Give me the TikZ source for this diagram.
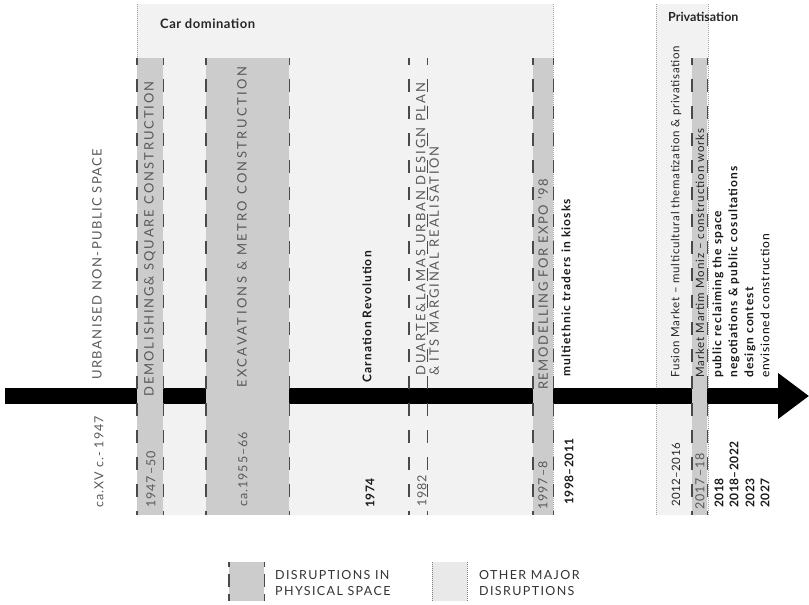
\documentclass[tikz,border=0pt]{standalone}
\usepackage{fontspec}
\setmainfont{Lato}
\newfontfamily\capsU[LetterSpace=11]{Lato}
\newfontfamily\capsDm[LetterSpace=15]{Lato}
\newfontfamily\capsEx[LetterSpace=18.5]{Lato}
\newfontfamily\capsDa[LetterSpace=16]{Lato}
\newfontfamily\capsDb[LetterSpace=15]{Lato}
\newfontfamily\capsRe[LetterSpace=12]{Lato}
\newfontfamily\datef[LetterSpace=8]{Lato}
\newfontfamily\lowA[LetterSpace=4]{Lato}
\newfontfamily\lowFu[LetterSpace=6.4]{Lato}
\newfontfamily\lowCa[LetterSpace=9.5]{Lato}
\newfontfamily\lowMu[LetterSpace=9.5]{Lato}
\newfontfamily\lowMa[LetterSpace=8]{Lato}
\newfontfamily\lowPu[LetterSpace=8.5]{Lato}
\newfontfamily\lowNe[LetterSpace=9.5]{Lato}
\newfontfamily\lowDe[LetterSpace=9]{Lato}
\newfontfamily\lowEn[LetterSpace=7.5]{Lato}
\newfontfamily\legf[LetterSpace=11]{Lato}
\usetikzlibrary{arrows.meta}
\definecolor{lightreg}{HTML}{F2F2F2}
\definecolor{darkbox}{HTML}{CCCCCC}
\definecolor{capgrey}{HTML}{595959}
\definecolor{dashgrey}{HTML}{4A4A4A}
\definecolor{dotgrey}{HTML}{A0A0A0}
\definecolor{leggrey}{HTML}{333333}
\begin{document}
\begin{tikzpicture}[x=1pt,y=-1pt,
  region/.style={fill=lightreg, draw=none, inner sep=0pt, anchor=north west},
  phys/.style={fill=darkbox, draw=none, inner sep=0pt, anchor=north west},
  dashline/.style={draw=dashgrey, line width=1.3pt, dash pattern=on 13pt off 14pt, dash phase=6pt},
  legdash/.style={draw=dashgrey, line width=1.3pt, dash pattern=on 13pt off 7pt, dash phase=8pt},
  dotline/.style={draw=dotgrey, line width=0.7pt, dash pattern=on 0.8pt off 1.2pt},
  vcap/.style={rotate=90, anchor=west, inner sep=0pt, text=capgrey},
  vdate/.style={rotate=90, anchor=west, inner sep=0pt, font=\datef\fontsize{12.5}{13}\selectfont, text=capgrey},
  vbold/.style={rotate=90, anchor=west, inner sep=0pt, font=\lowA\bfseries\fontsize{12}{13}\selectfont, text=black!90},
  vreg/.style={rotate=90, anchor=west, inner sep=0pt, font=\lowA\fontsize{11.5}{13}\selectfont, text=black!85},
  period/.style={anchor=west, inner sep=0pt, font=\lowA\bfseries\fontsize{13}{14}\selectfont, text=black!85},
  legtxt/.style={anchor=west, inner sep=0pt, align=left, font=\legf\fontsize{12.5}{15.5}\selectfont, text=leggrey},
]
\useasboundingbox (0,0) rectangle (809,605);
% periods (other major disruptions)
\node[region, minimum width=416pt, minimum height=511pt] (car) at (137,4) {};
\node[region, minimum width=52pt, minimum height=511pt] (priv) at (656,4) {};
\draw[dotline] (car.north west) -- (car.south west);
\draw[dotline] (car.north east) -- (car.south east);
\draw[dotline] (priv.north west) -- (priv.south west);
\draw[dotline] (priv.north east) -- (priv.south east);
% timeline arrow
\coordinate (tlstart) at (5,396);
\coordinate (tlend) at (809,396);
\draw[line width=16pt, -{Triangle[length=31pt,width=44pt]}] (tlstart) -- (tlend);
% disruptions in physical space
\node[phys, minimum width=26pt, minimum height=457pt] (b1) at (137,58) {};
\node[phys, minimum width=83pt, minimum height=457pt] (b2) at (206,58) {};
\node[inner sep=0pt, anchor=north west, minimum width=18pt, minimum height=457pt] (b3) at (409,58) {};
\node[phys, minimum width=20pt, minimum height=457pt] (b4) at (533,58) {};
\node[phys, minimum width=15pt, minimum height=457pt] (b5) at (692,58) {};
\foreach \b in {b1,b2,b3,b4,b5}{
  \draw[dashline] (\b.north west) -- (\b.south west);
  \draw[dashline] (\b.north east) -- (\b.south east);
}
% period labels
\node[period] (cardom) at (160,24) {Car domination};
\node[period, font=\bfseries\fontsize{12.5}{14}\selectfont] (privlab) at (668,17) {Privatisation};
% upper labels
\node[vcap, font=\capsU\fontsize{13}{14}\selectfont] (t0) at (97,380) {URBANISED NON-PUBLIC SPACE};
\node[vcap, font=\capsDm\fontsize{13}{14}\selectfont] (t1) at (150,397) {DEMOLISHING\& SQUARE CONSTRUCTION};
\node[vcap, font=\capsEx\fontsize{13}{14}\selectfont] (t2) at (242,388) {EXCAVATIONS \& METRO CONSTRUCTION};
\node[vbold, font=\lowCa\bfseries\fontsize{12}{13}\selectfont] (t3) at (367,383) {Carnation Revolution};
\node[vcap, align=left, font=\fontsize{13}{13.5}\selectfont] (t4) at (427.5,376) {{\capsDa DUARTE\&LAMAS URBAN DESIGN PLAN}\\{\capsDb\& ITS MARGINAL REALISATION}};
\node[vcap, font=\capsRe\fontsize{13}{14}\selectfont] (t5) at (543,390) {REMODELLING FOR EXPO ’98};
\node[vbold, font=\lowMu\bfseries\fontsize{12}{13}\selectfont] (t6) at (566,377) {multiethnic traders in kiosks};
\node[vreg, font=\lowFu\fontsize{11.5}{13}\selectfont] (t7) at (676,378) {Fusion Market – multicultural thematization \& privatisation};
\node[vreg, font=\lowMa\fontsize{11.5}{13}\selectfont] (t8) at (700,378) {Market Martim Moniz – construction works};
\node[vbold, font=\lowPu\bfseries\fontsize{12}{13}\selectfont] (t9) at (718,378) {public reclaiming the space};
\node[vbold, font=\lowNe\bfseries\fontsize{12}{13}\selectfont] (t10) at (734,378) {negotiations \& public cosultations};
\node[vbold, font=\lowDe\bfseries\fontsize{12}{13}\selectfont] (t11) at (750,378) {design contest};
\node[vreg, font=\lowEn\fontsize{12}{13}\selectfont, text=black] (t12) at (765,378) {envisioned construction};
% dates
\node[vdate] (d0) at (99,508) {ca.XV c.- 1947};
\node[vdate] (d1) at (151,508) {1947–50};
\node[vdate] (d2) at (243,507) {ca.1955–66};
\node[vbold] (d3) at (370,508) {1974};
\node[vdate] (d4) at (422,507) {1982};
\node[vdate] (d5) at (543,510) {1997–8};
\node[vbold] (d6) at (569,505) {1998–2011};
\node[vreg] (d7) at (676,507) {2012–2016};
\node[vdate] (d8) at (700,510) {2017–18};
\node[vbold] (d9) at (719,508) {2018};
\node[vbold] (d10) at (734,508) {2018–2022};
\node[vbold] (d11) at (750,508) {2023};
\node[vbold] (d12) at (765,508) {2027};
% legend
\node[phys, minimum width=35pt, minimum height=39pt] (lgphys) at (229,562) {};
\draw[legdash] (lgphys.north west) -- (lgphys.south west);
\draw[legdash] (lgphys.north east) -- (lgphys.south east);
\node[legtxt] (lgphystxt) at (275,583) {DISRUPTIONS IN\\PHYSICAL SPACE};
\node[region, fill=lightreg!80!gray!60!white, minimum width=35pt, minimum height=39pt] (lgother) at (432,562) {};
\draw[dotline, draw=gray] (lgother.north west) -- (lgother.south west);
\draw[dotline, draw=gray] (lgother.north east) -- (lgother.south east);
\node[legtxt] (lgothertxt) at (479,583) {OTHER MAJOR\\DISRUPTIONS};
\end{tikzpicture}
\end{document}
